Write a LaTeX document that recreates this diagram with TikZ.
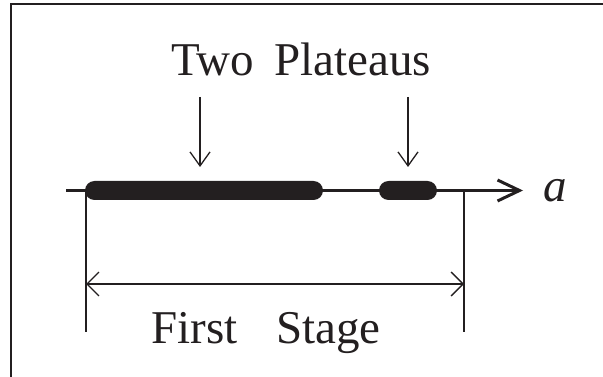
\documentclass[tikz,border=0pt]{standalone}
\usepackage{fontspec}
\setmainfont{Liberation Serif}
\usetikzlibrary{arrows.meta}
\definecolor{ink}{HTML}{231F20}
\tikzset{
  thin line/.style={draw=ink, line width=1.3pt},
  plateau/.style={fill=ink, draw=none, rounded corners=9.5pt, inner sep=0pt, minimum height=19pt},
  big label/.style={text=ink, inner sep=0pt, font=\fontsize{47}{52}\selectfont},
  down arrow/.style={thin line, -{Straight Barb[length=14pt,width=20pt]}},
  dim arrow/.style={thin line, {Straight Barb[length=12pt,width=24pt]}-{Straight Barb[length=12pt,width=24pt]}},
}
\begin{document}
\begin{tikzpicture}[x=1pt,y=-1pt]
  \useasboundingbox (0,0) rectangle (603,377);
  % frame (top and left edges)
  \draw[ink, line width=2pt] (11,377) -- (11,4) -- (603,4);

  % axis a
  \coordinate (axL) at (66,190.5);
  \coordinate (axR) at (523,190.5);
  \draw[ink, line width=3pt, -{Straight Barb[length=22pt,width=21pt]}] (axL) -- (axR);
  \node[big label, anchor=base west, font=\fontsize{47}{52}\selectfont\itshape] (a) at (543,201) {a};

  % plateaus
  \node[plateau, minimum width=238pt] (p1) at (204,190.5) {};
  \node[plateau, minimum width=58pt] (p2) at (408,190.5) {};

  % title and pointers
  \node[big label, anchor=base west] (two) at (171,76) {Two};
  \node[big label, anchor=base west] (plat) at (274,76) {Plateaus};
  \coordinate (d1) at (200,97);
  \coordinate (d1e) at (200,167);
  \coordinate (d2) at (408,97);
  \coordinate (d2e) at (408,167);
  \draw[down arrow] (d1) -- (d1e);
  \draw[down arrow] (d2) -- (d2e);

  % first stage dimension
  \coordinate (s1) at (86,190.5);
  \coordinate (s2) at (464,190.5);
  \coordinate (s1b) at (86,332);
  \coordinate (s2b) at (464,332);
  \draw[thin line] (s1) -- (s1b);
  \draw[thin line] (s2) -- (s2b);
  \coordinate (m1) at (86,284);
  \coordinate (m2) at (464,284);
  \draw[dim arrow] (m1) -- (m2);
  \node[big label, anchor=base west] (first) at (151,343) {First};
  \node[big label, anchor=base west] (stage) at (276,343) {Stage};
\end{tikzpicture}
\end{document}
